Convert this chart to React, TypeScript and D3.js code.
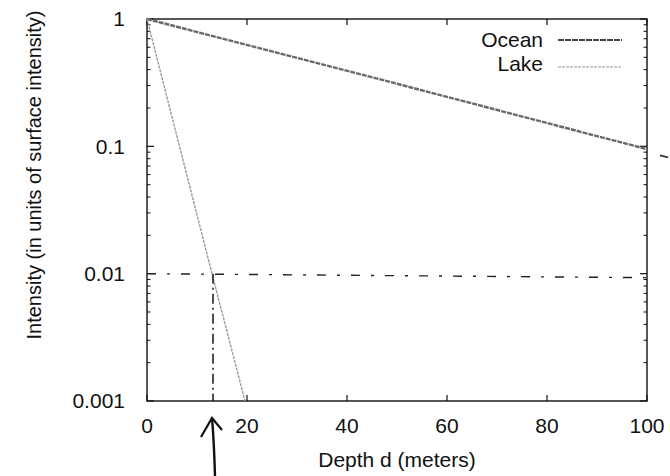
import * as d3 from "d3";

const oceanDepth = [0, 50, 100];
const oceanIntensity = [1, 0.31, 0.095];
const lakeDepth = [0, 13, 19.6];
const lakeIntensity = [1, 0.01, 0.001];
const refDepth = [0, 100];
const refIntensity = [0.01, 0.0093];
const markDepth = 13.2;
const xTicks = [0, 20, 40, 60, 80, 100];
const yTicks = [1, 0.1, 0.01, 0.001];
const yTickLabels = ["1", "0.1", "0.01", "0.001"];
const legendNames = ["Ocean", "Lake"];

const W = 670;
const H = 476;
const left = 147, right = 647, top = 19, bottom = 401;
const font = "'Liberation Sans', Arial, Helvetica, sans-serif";

export default function App() {
  const x = d3.scaleLinear().domain([0, 100]).range([left, right]);
  const y = d3.scaleLog().domain([0.001, 1]).range([bottom, top]);

  const line = d3
    .line<[number, number]>()
    .x((d) => x(d[0]))
    .y((d) => y(d[1]));

  const ocean = oceanDepth.map((d, i) => [d, oceanIntensity[i]] as [number, number]);
  const lake = lakeDepth.map((d, i) => [d, lakeIntensity[i]] as [number, number]);
  const ref = refDepth.map((d, i) => [d, refIntensity[i]] as [number, number]);

  // minor log ticks
  const minor: number[] = [];
  [0.001, 0.01, 0.1].forEach((base) => {
    for (let k = 2; k <= 9; k++) minor.push(base * k);
  });

  const ax = x(markDepth);

  return (
    <svg width={W} height={H} style={{ position: "absolute", left: 0, top: 0, background: "#fff" }}>
      {/* frame */}
      <rect x={left} y={top} width={right - left} height={bottom - top} fill="none" stroke="#111" strokeWidth={1.4} />

      {/* x ticks */}
      {xTicks.map((t) => (
        <g key={"x" + t}>
          <line x1={x(t)} x2={x(t)} y1={bottom} y2={bottom - 6} stroke="#111" strokeWidth={1.2} />
          <line x1={x(t)} x2={x(t)} y1={top} y2={top + 6} stroke="#111" strokeWidth={1.2} />
          <text x={x(t)} y={433} textAnchor="middle" fontFamily={font} fontSize={21} fill="#111">
            {t}
          </text>
        </g>
      ))}

      {/* y ticks */}
      {yTicks.map((t, i) => (
        <g key={"y" + t}>
          <line x1={left} x2={left + 7} y1={y(t)} y2={y(t)} stroke="#111" strokeWidth={1.2} />
          <line x1={right} x2={right - 7} y1={y(t)} y2={y(t)} stroke="#111" strokeWidth={1.2} />
          <text x={125} y={y(t)} dy="0.35em" textAnchor="end" fontFamily={font} fontSize={21} fill="#111">
            {yTickLabels[i]}
          </text>
        </g>
      ))}
      {minor.map((t) => (
        <g key={"m" + t}>
          <line x1={left} x2={left + 3.5} y1={y(t)} y2={y(t)} stroke="#111" strokeWidth={1} />
          <line x1={right} x2={right - 3.5} y1={y(t)} y2={y(t)} stroke="#111" strokeWidth={1} />
        </g>
      ))}

      {/* data */}
      <path d={line(ocean) ?? ""} fill="none" stroke="#6a6a6a" strokeWidth={2.4} strokeDasharray="5,1" />
      <path d={line(lake) ?? ""} fill="none" stroke="#9a9a9a" strokeWidth={1.4} strokeDasharray="3,1" />

      {/* hand-drawn reference lines */}
      <path d={line(ref) ?? ""} fill="none" stroke="#222" strokeWidth={1.4} strokeDasharray="9,11,3,11" />
      <line x1={ax} x2={ax} y1={y(0.01)} y2={bottom} stroke="#222" strokeWidth={1.6} strokeDasharray="10,4,2,4" />

      {/* arrow */}
      <path
        d={`M${ax + 2},${H} Q${ax + 1},${bottom + 40} ${ax - 1},${bottom + 17}`}
        fill="none"
        stroke="#111"
        strokeWidth={2.4}
      />
      <path
        d={`M${ax - 12},${bottom + 36} L${ax - 1},${bottom + 17} L${ax + 9},${bottom + 29}`}
        fill="none"
        stroke="#111"
        strokeWidth={2.2}
      />
      <line x1={x(100) + 13} x2={x(100) + 21} y1={y(0.1) + 9} y2={y(0.1) + 11} stroke="#333" strokeWidth={1.8} />

      {/* legend */}
      {legendNames.map((n, i) => (
        <g key={n}>
          <text x={543} y={47 + i * 24} textAnchor="end" fontFamily={font} fontSize={21} fill="#111">
            {n}
          </text>
          <line
            x1={558}
            x2={622}
            y1={40 + i * 27}
            y2={40 + i * 27}
            stroke={i === 0 ? "#444" : "#9a9a9a"}
            strokeWidth={i === 0 ? 2.2 : 1.2}
            strokeDasharray={i === 0 ? "6,1" : "3,1"}
          />
        </g>
      ))}

      {/* axis labels */}
      <text x={(left + right) / 2} y={467} textAnchor="middle" fontFamily={font} fontSize={21} fill="#111">
        Depth d (meters)
      </text>
      <text
        transform={`translate(41,175) rotate(-90)`}
        textAnchor="middle"
        fontFamily={font}
        fontSize={20}
        fill="#111"
      >
        Intensity (in units of surface intensity)
      </text>
    </svg>
  );
}
